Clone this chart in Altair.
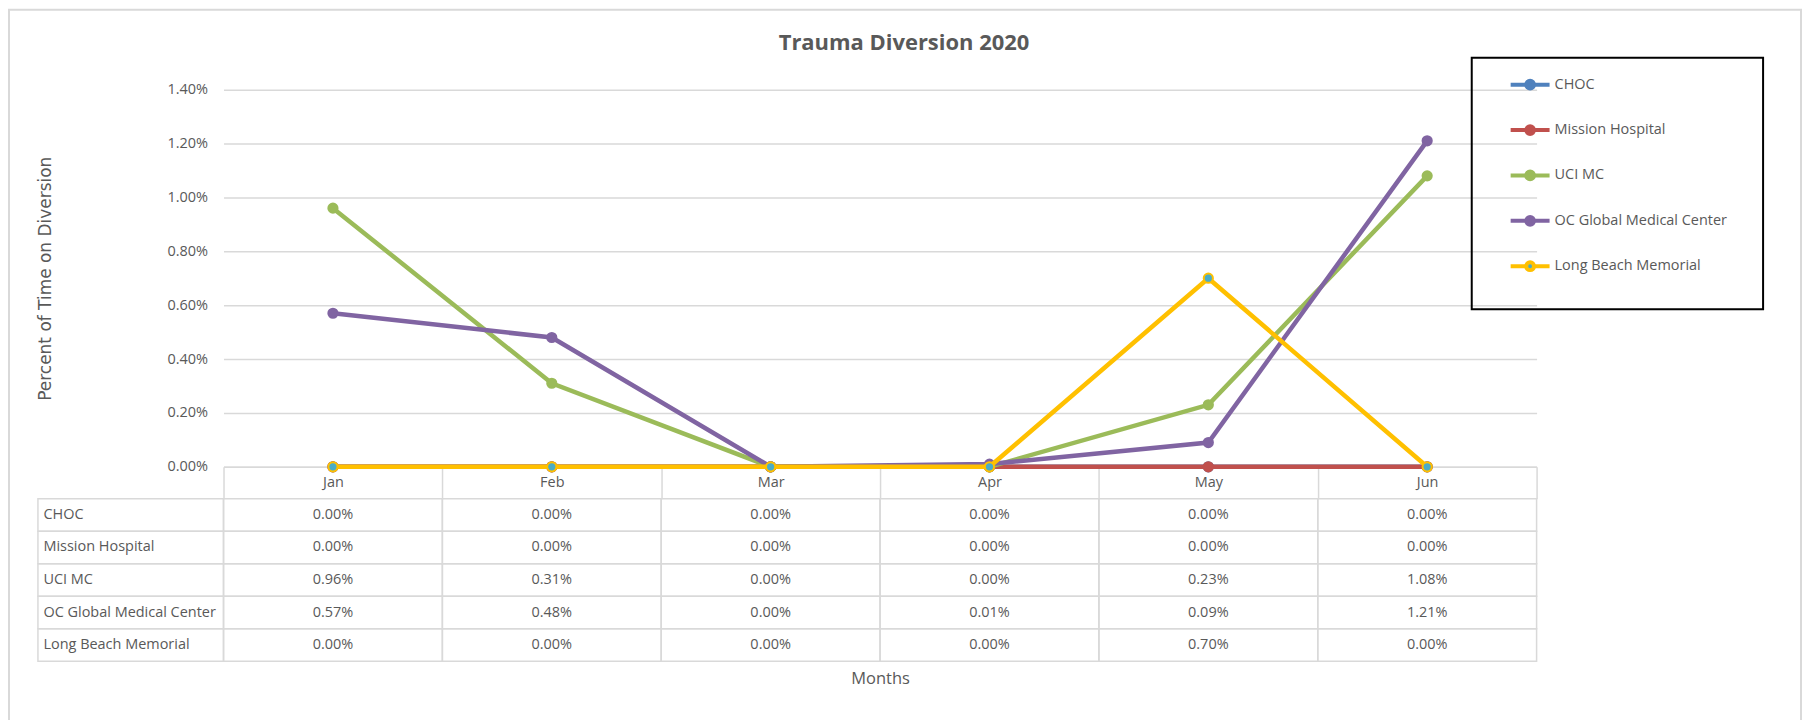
import altair as alt
import pandas as pd

# ---------------- data ----------------
chart_title = "Trauma Diversion 2020"
months = ["Jan", "Feb", "Mar", "Apr", "May", "Jun"]
series = ["CHOC", "Mission Hospital", "UCI MC", "OC Global Medical Center", "Long Beach Memorial"]
choc = [0.00, 0.00, 0.00, 0.00, 0.00, 0.00]
mission = [0.00, 0.00, 0.00, 0.00, 0.00, 0.00]
uci = [0.96, 0.31, 0.00, 0.00, 0.23, 1.08]
ocgmc = [0.57, 0.48, 0.00, 0.01, 0.09, 1.21]
lbm = [0.00, 0.00, 0.00, 0.00, 0.70, 0.00]
y_ticks = [0.0, 0.002, 0.004, 0.006, 0.008, 0.010, 0.012, 0.014]
line_colors = ["#4F81BD", "#C0504D", "#9BBB59", "#8064A2", "#FFC000"]
marker_fills = ["#4F81BD", "#C0504D", "#9BBB59", "#8064A2", "#4BACC6"]

rows = []
for s, vals in zip(series, [choc, mission, uci, ocgmc, lbm]):
    for m, v in zip(months, vals):
        rows.append({"series": s, "month": m, "value": v / 100.0})
df = pd.DataFrame(rows)
series_df = pd.DataFrame({"series": series})
title_df = pd.DataFrame({"title": [chart_title]})

# ---------------- style ----------------
FONT = "Open Sans"
GRAY = "#595959"
GRID = "#d9d9d9"
W, H = 1316, 378
ROWS_H = 163

x_top = alt.X(
    "month:N", sort=months,
    scale=alt.Scale(type="band", paddingInner=0, paddingOuter=0),
    axis=alt.Axis(title=None, grid=False, domainColor=GRID, domainWidth=1.5,
                  ticks=True, tickBand="extent", tickSize=32, tickColor=GRID, tickWidth=1.5,
                  labelPadding=-23, labelFont=FONT, labelFontSize=14.5, labelColor=GRAY,
                  labelAngle=0),
)
y_top = alt.Y(
    "value:Q",
    scale=alt.Scale(domain=[0, 0.014], nice=False),
    axis=alt.Axis(values=y_ticks, format=".2%", grid=True, gridColor=GRID, gridWidth=1.5,
                  domain=False, ticks=False, labelPadding=16, labelFont=FONT,
                  labelFontSize=14.5, labelColor=GRAY,
                  title="Percent of Time on Diversion", titleX=-178, titleY=189,
                  titleAngle=270, titleFont="DejaVu Sans", titleFontSize=17,
                  titleFontWeight="normal", titleColor=GRAY, titleAlign="center",
                  titleBaseline="middle"),
)

sym_path = ("M-1,0L-0.2,0M0.2,0L1,0"
            "M-0.2,0A0.2,0.2,0,1,1,0.2,0A0.2,0.2,0,1,1,-0.2,0Z")
legend = alt.Legend(title=None, orient="none", legendX=1288, legendY=-26.5,
                    symbolType=sym_path, symbolSize=1521, symbolStrokeWidth=4,
                    symbolOpacity=1, labelOffset=3, labelFont=FONT, labelFontSize=14.5,
                    labelColor=GRAY, rowPadding=11.5, padding=0, labelLimit=400)
stroke_scale = alt.Scale(domain=series, range=line_colors)
fill_scale = alt.Scale(domain=series, range=marker_fills)

layers = []
# outer frame
layers.append(
    alt.Chart(title_df).mark_rect(fillOpacity=0, stroke=GRID, strokeWidth=2).encode(
        x=alt.value(-215), x2=alt.value(1581), y=alt.value(-80), y2=alt.value(645))
)
# title
layers.append(
    alt.Chart(title_df).mark_text(font=FONT, fontSize=22, fontWeight="bold", color=GRAY,
                                  baseline="middle", align="center").encode(
        x=alt.value(682), y=alt.value(-47), text="title:N")
)
for s in series:
    base = alt.Chart(df).transform_filter(alt.datum.series == s)
    layers.append(base.mark_line(strokeWidth=4.5).encode(
        x=x_top, y=y_top,
        stroke=alt.Stroke("series:N", scale=stroke_scale, legend=legend, sort=series)))
    layers.append(base.mark_point(filled=True, shape="circle", size=85, strokeWidth=2,
                                  opacity=1).encode(
        x=x_top, y=y_top,
        stroke=alt.Stroke("series:N", scale=stroke_scale, legend=legend, sort=series),
        fill=alt.Fill("series:N", scale=fill_scale, legend=legend, sort=series)))
# legend box
layers.append(
    alt.Chart(title_df).mark_rect(fillOpacity=0, stroke="black", strokeWidth=2).encode(
        x=alt.value(1251), x2=alt.value(1543), y=alt.value(-32), y2=alt.value(220))
)
top = alt.layer(*layers).properties(width=W, height=H)

# ---------------- data table ----------------
x_tab = alt.X("month:N", sort=months, scale=alt.Scale(paddingInner=0, paddingOuter=0),
              axis=alt.Axis(title="Months", labels=False, ticks=False, domain=False,
                            titleFont=FONT, titleFontSize=16.5, titleColor=GRAY,
                            titleFontWeight="normal", titlePadding=9))
y_tab = alt.Y("series:N", sort=series, scale=alt.Scale(paddingInner=0, paddingOuter=0),
              axis=alt.Axis(title=None, ticks=False, domain=False, labelAlign="left",
                            labelPadding=181, labelFont=FONT, labelFontSize=14.5,
                            labelColor=GRAY, labelLimit=400))
cells = alt.Chart(df).mark_rect(fillOpacity=0, stroke=GRID, strokeWidth=1.5).encode(
    x=x_tab, y=y_tab)
label_cells = alt.Chart(series_df).mark_rect(fillOpacity=0, stroke=GRID, strokeWidth=1.5).encode(
    x=alt.value(-186), x2=alt.value(0), y=y_tab)
texts = alt.Chart(df).mark_text(font=FONT, fontSize=14.5, color=GRAY).encode(
    x=x_tab, y=y_tab, text=alt.Text("value:Q", format=".2%"))
table = alt.layer(cells, label_cells, texts).properties(width=W, height=ROWS_H)

chart = alt.vconcat(top, table, spacing=32, bounds="flush").properties(
    padding=0, background="white"
).configure_view(strokeWidth=0)

chart.save("out.html", embed_options={"renderer": "svg", "actions": False})
